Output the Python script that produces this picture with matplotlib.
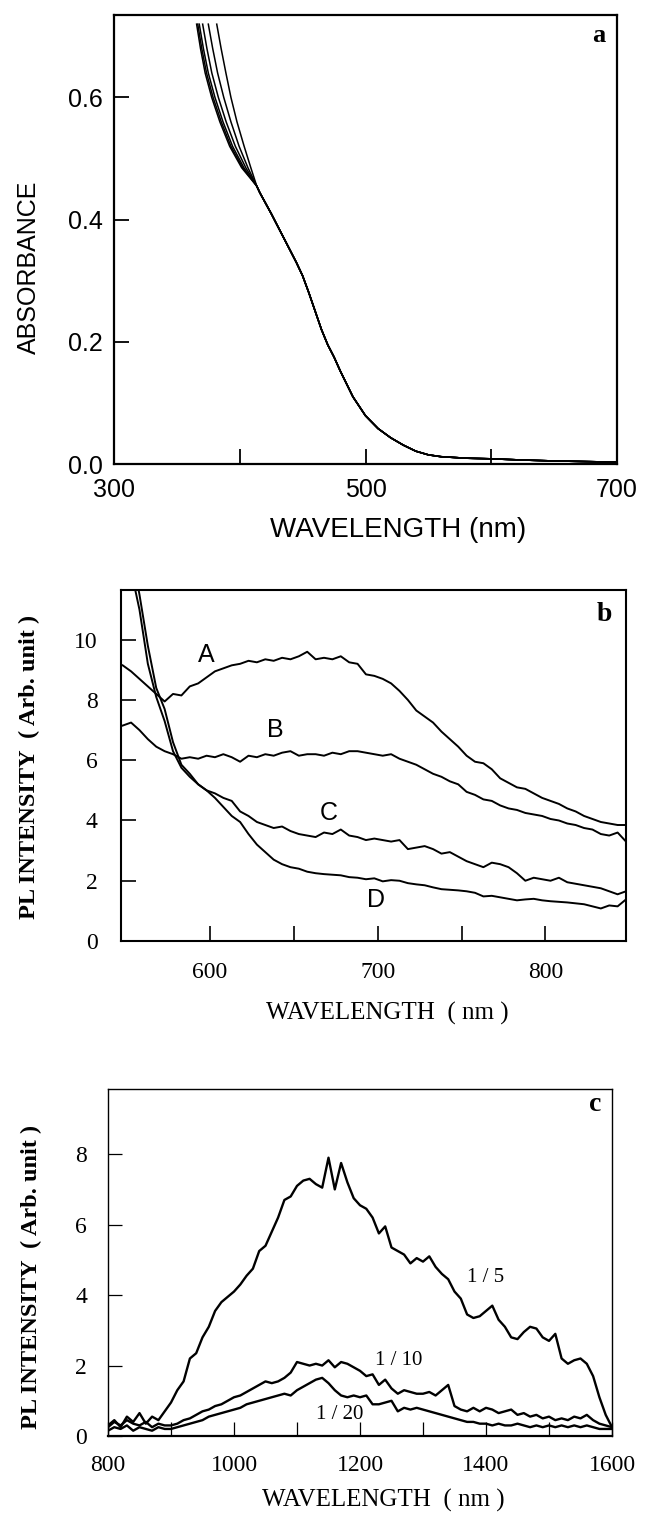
import numpy as np
import matplotlib
matplotlib.use("Agg")
import matplotlib.pyplot as plt

# ---- panel a: absorbance ----
# six curves that differ only in the blue, then share one tail
abs_levels_top = [0.72, 0.68, 0.64, 0.60, 0.56, 0.52, 0.485, 0.455]
wl_top_curves = [
    [365.7, 368.8, 372.5, 377.7, 384.2, 392.0, 401.5, 413.5],
    [366.6, 369.8, 373.6, 378.8, 385.3, 393.0, 402.3, 413.5],
    [367.8, 371.1, 375.0, 380.3, 386.7, 394.3, 403.3, 413.5],
    [370.5, 373.9, 377.8, 383.0, 389.2, 396.5, 404.8, 413.5],
    [375.0, 378.5, 382.4, 387.3, 393.0, 399.5, 406.5, 413.5],
    [381.7, 385.2, 389.0, 393.0, 397.8, 403.5, 408.8, 413.5],
]
wl_tail = [416, 425, 435, 445, 450, 455, 460, 465, 470, 475, 480, 490, 500,
           510, 520, 530, 540, 550, 560, 580, 600, 625, 650, 675, 700]
abs_tail = [0.444, 0.41, 0.37, 0.33, 0.308, 0.28, 0.25, 0.22, 0.195, 0.175,
            0.152, 0.11, 0.079, 0.058, 0.043, 0.031, 0.021, 0.015, 0.012,
            0.0095, 0.0085, 0.0065, 0.005, 0.004, 0.003]

# ---- panel b: PL spectra A-D, 548..848 nm step 5 ----
wl_b = np.arange(548, 849, 5)
pl_A = [9.15, 8.95, 8.70, 8.45, 8.20, 7.95, 8.20, 8.15, 8.45, 8.55,
        8.75, 8.95, 9.05, 9.15, 9.20, 9.30, 9.25, 9.35, 9.30, 9.40,
        9.35, 9.45, 9.60, 9.35, 9.40, 9.35, 9.45, 9.25, 9.20, 8.85,
        8.80, 8.70, 8.55, 8.30, 8.00, 7.65, 7.45, 7.25, 6.95, 6.70,
        6.45, 6.15, 5.95, 5.90, 5.70, 5.40, 5.25, 5.10, 5.05, 4.90,
        4.75, 4.65, 4.55, 4.40, 4.30, 4.15, 4.05, 3.95, 3.90, 3.85,
        3.85]
pl_B = [7.15, 7.25, 7.00, 6.70, 6.45, 6.30, 6.20, 6.05, 6.10, 6.05,
        6.15, 6.10, 6.20, 6.10, 5.95, 6.15, 6.10, 6.20, 6.15, 6.25,
        6.30, 6.15, 6.20, 6.20, 6.15, 6.25, 6.20, 6.30, 6.30, 6.25,
        6.20, 6.15, 6.20, 6.05, 5.95, 5.85, 5.70, 5.55, 5.45, 5.30,
        5.20, 4.95, 4.85, 4.70, 4.65, 4.50, 4.40, 4.35, 4.25, 4.20,
        4.15, 4.05, 4.00, 3.90, 3.85, 3.75, 3.70, 3.55, 3.50, 3.60,
        3.30]
pl_C = [14.5, 13.0, 11.5, 9.80, 8.40, 7.70, 6.60, 5.85, 5.55, 5.20,
        5.00, 4.90, 4.75, 4.65, 4.30, 4.15, 3.95, 3.85, 3.75, 3.80,
        3.65, 3.55, 3.50, 3.45, 3.60, 3.55, 3.70, 3.50, 3.45, 3.35,
        3.40, 3.35, 3.30, 3.35, 3.05, 3.10, 3.15, 3.05, 2.90, 2.95,
        2.80, 2.65, 2.55, 2.45, 2.60, 2.55, 2.45, 2.25, 2.00, 2.10,
        2.05, 2.00, 2.10, 1.95, 1.90, 1.85, 1.80, 1.75, 1.65, 1.55,
        1.65]
pl_D = [14.0, 12.3, 11.0, 9.20, 8.10, 7.30, 6.30, 5.75, 5.45, 5.20,
        5.00, 4.75, 4.45, 4.15, 3.95, 3.55, 3.20, 2.95, 2.70, 2.55,
        2.45, 2.40, 2.30, 2.25, 2.22, 2.20, 2.18, 2.12, 2.10, 2.05,
        2.08, 1.98, 2.02, 2.00, 1.92, 1.88, 1.85, 1.78, 1.72, 1.70,
        1.68, 1.65, 1.60, 1.48, 1.50, 1.45, 1.40, 1.35, 1.38, 1.40,
        1.35, 1.32, 1.30, 1.28, 1.25, 1.22, 1.15, 1.08, 1.18, 1.15,
        1.38]
labels_b = ["A", "B", "C", "D"]
label_pos_b = [(598, 9.5), (639, 7.0), (671, 4.25), (699, 1.35)]

# ---- panel c: near-IR PL, 800..1600 nm step 10 ----
wl_c = np.arange(800, 1601, 10)
pl_5 = [0.30, 0.45, 0.25, 0.55, 0.40, 0.65, 0.35, 0.55, 0.45, 0.70,
        0.95, 1.30, 1.55, 2.20, 2.35, 2.80, 3.10, 3.55, 3.80, 3.95,
        4.10, 4.30, 4.55, 4.75, 5.25, 5.40, 5.80, 6.20, 6.70, 6.80,
        7.10, 7.25, 7.30, 7.15, 7.05, 7.90, 7.00, 7.75, 7.20, 6.75,
        6.55, 6.45, 6.20, 5.75, 5.95, 5.35, 5.25, 5.15, 4.90, 5.05,
        4.95, 5.10, 4.80, 4.60, 4.45, 4.10, 3.90, 3.45, 3.35, 3.40,
        3.55, 3.70, 3.30, 3.10, 2.80, 2.75, 2.95, 3.10, 3.05, 2.80,
        2.70, 2.90, 2.20, 2.05, 2.15, 2.20, 2.05, 1.70, 1.10, 0.60,
        0.25]
pl_10 = [0.25, 0.40, 0.30, 0.45, 0.35, 0.30, 0.40, 0.25, 0.35, 0.30,
         0.30, 0.35, 0.45, 0.50, 0.60, 0.70, 0.75, 0.85, 0.90, 1.00,
         1.10, 1.15, 1.25, 1.35, 1.45, 1.55, 1.50, 1.55, 1.65, 1.80,
         2.10, 2.05, 2.00, 2.05, 2.00, 2.15, 1.95, 2.10, 2.05, 1.95,
         1.85, 1.70, 1.75, 1.45, 1.60, 1.35, 1.20, 1.30, 1.25, 1.20,
         1.20, 1.25, 1.15, 1.30, 1.45, 0.85, 0.75, 0.70, 0.80, 0.70,
         0.80, 0.75, 0.65, 0.70, 0.75, 0.60, 0.65, 0.55, 0.60, 0.50,
         0.55, 0.45, 0.50, 0.45, 0.55, 0.50, 0.60, 0.45, 0.35, 0.30,
         0.25]
pl_20 = [0.15, 0.25, 0.20, 0.30, 0.15, 0.25, 0.20, 0.15, 0.25, 0.20,
         0.20, 0.25, 0.30, 0.35, 0.40, 0.45, 0.55, 0.60, 0.65, 0.70,
         0.75, 0.80, 0.90, 0.95, 1.00, 1.05, 1.10, 1.15, 1.20, 1.15,
         1.30, 1.40, 1.50, 1.60, 1.65, 1.50, 1.30, 1.15, 1.10, 1.15,
         1.10, 1.15, 0.90, 0.90, 0.95, 1.00, 0.70, 0.80, 0.75, 0.80,
         0.75, 0.70, 0.65, 0.60, 0.55, 0.50, 0.45, 0.40, 0.40, 0.35,
         0.35, 0.30, 0.35, 0.30, 0.30, 0.35, 0.30, 0.25, 0.30, 0.25,
         0.30, 0.25, 0.30, 0.25, 0.30, 0.25, 0.30, 0.25, 0.20, 0.20,
         0.20]
labels_c = ["1 / 5", "1 / 10", "1 / 20"]
label_pos_c = [(1400, 4.5), (1262, 2.15), (1168, 0.62)]

SANS = "Liberation Sans"
SERIF = "Liberation Serif"

W, H = 646, 1530
fig = plt.figure(figsize=(W / 100, H / 100), dpi=100)


def box(l, t, r, b):
    return [l / W, 1 - b / H, (r - l) / W, (b - t) / H]


# ---------------- panel a ----------------
ax = fig.add_axes(box(114, 15, 617, 464))
for wl_top in wl_top_curves:
    ax.plot(list(wl_top) + wl_tail, abs_levels_top + abs_tail, color="k", lw=1.1)
ax.set_xlim(300, 700)
ax.set_ylim(0, 0.735)
ax.set_xticks([300, 400, 500, 600, 700])
ax.set_xticklabels(["300", "", "500", "", "700"])
ax.set_yticks([0.0, 0.2, 0.4, 0.6])
ax.set_yticklabels(["0.0", "0.2", "0.4", "0.6"])
ax.tick_params(direction="in", length=11, width=1.3, labelsize=18)
ax.tick_params(axis="x", pad=10)
ax.tick_params(axis="y", pad=8)
for lab in ax.get_xticklabels() + ax.get_yticklabels():
    lab.set_family(SANS)
for s in ax.spines.values():
    s.set_linewidth(1.6)
ax.text(0.964, 0.955, "a", transform=ax.transAxes, ha="center", va="center",
        fontsize=19, fontweight="bold", family=SERIF)
fig.text(29 / W, 1 - 267 / H, "ABSORBANCE", rotation=90, ha="center",
         va="center", fontsize=18, family=SANS)
fig.text(398 / W, 1 - 530 / H, "WAVELENGTH (nm)", ha="center", va="center",
         fontsize=20, family=SANS)

# ---------------- panel b ----------------
ax = fig.add_axes(box(121, 590, 626, 941))
for ys in [pl_A, pl_B, pl_C, pl_D]:
    ax.plot(wl_b, ys, color="k", lw=1.4)
for lab, (lx, ly) in zip(labels_b, label_pos_b):
    ax.text(lx, ly, lab, ha="center", va="center", fontsize=18, family=SANS)
ax.set_xlim(547, 848)
ax.set_ylim(0, 11.65)
ax.set_xticks([600, 650, 700, 750, 800])
ax.set_xticklabels(["600", "", "700", "", "800"])
ax.set_yticks([0, 2, 4, 6, 8, 10])
ax.tick_params(direction="in", length=11, width=1.2, labelsize=17)
ax.tick_params(axis="x", pad=15)
ax.tick_params(axis="y", pad=17)
for lab in ax.get_xticklabels() + ax.get_yticklabels():
    lab.set_family(SERIF)
for s in ax.spines.values():
    s.set_linewidth(1.5)
ax.text(0.958, 0.929, "b", transform=ax.transAxes, ha="center", va="center",
        fontsize=20, fontweight="bold", family=SERIF)
fig.text(29 / W, 1 - 767 / H, "PL INTENSITY  ( Arb. unit )", rotation=90,
         ha="center", va="center", fontsize=17.5, fontweight="bold", family=SERIF)
fig.text(387 / W, 1 - 1013 / H, "WAVELENGTH  ( nm )", ha="center",
         va="center", fontsize=18, family=SERIF)

# ---------------- panel c ----------------
ax = fig.add_axes(box(108, 1089, 612, 1436))
for ys in [pl_5, pl_10, pl_20]:
    ax.plot(wl_c, ys, color="k", lw=1.7)
for lab, (lx, ly) in zip(labels_c, label_pos_c):
    ax.text(lx, ly, lab, ha="center", va="center", fontsize=15, family=SERIF)
ax.set_xlim(800, 1600)
ax.set_ylim(0, 9.85)
ax.set_xticks(np.arange(800, 1601, 100))
ax.set_xticklabels(["800", "", "1000", "", "1200", "", "1400", "", "1600"])
ax.set_yticks([0, 2, 4, 6, 8])
ax.tick_params(direction="in", length=10, width=0.9, labelsize=17)
ax.tick_params(axis="x", pad=14)
ax.tick_params(axis="y", pad=15)
for lab in ax.get_xticklabels() + ax.get_yticklabels():
    lab.set_family(SERIF)
for s in ax.spines.values():
    s.set_linewidth(1.0)
ax.spines["bottom"].set_linewidth(1.6)
ax.text(0.966, 0.954, "c", transform=ax.transAxes, ha="center", va="center",
        fontsize=20, fontweight="bold", family=SERIF)
fig.text(31 / W, 1 - 1277 / H, "PL INTENSITY  ( Arb. unit )", rotation=90,
         ha="center", va="center", fontsize=17.5, fontweight="bold", family=SERIF)
fig.text(383 / W, 1 - 1500 / H, "WAVELENGTH  ( nm )", ha="center",
         va="center", fontsize=18, family=SERIF)

fig.savefig("out.png", dpi=100)
